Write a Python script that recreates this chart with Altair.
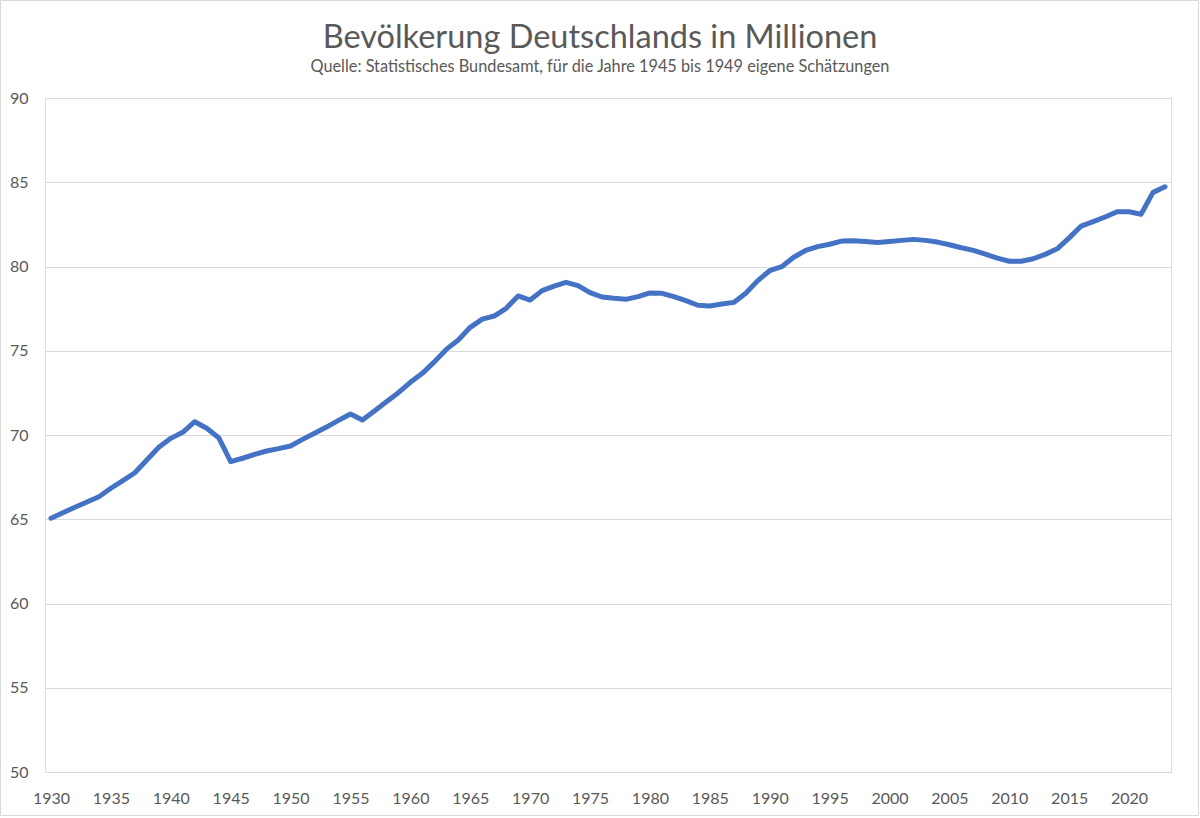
import altair as alt
import pandas as pd

years = list(range(1930, 2024))
population = [
    65.06, 65.39, 65.71, 66.02, 66.34, 66.84, 67.29, 67.76, 68.52, 69.27,
    69.80, 70.16, 70.79, 70.40, 69.84, 68.42, 68.62, 68.85, 69.05, 69.19,
    69.35, 69.74, 70.10, 70.47, 70.87, 71.25, 70.89, 71.42, 71.97, 72.51,
    73.13, 73.66, 74.34, 75.08, 75.64, 76.39, 76.88, 77.06, 77.52, 78.25,
    78.01, 78.57, 78.84, 79.06, 78.86, 78.45, 78.19, 78.11, 78.05, 78.21,
    78.43, 78.41, 78.21, 77.97, 77.70, 77.66, 77.77, 77.87, 78.41, 79.16,
    79.75, 79.99, 80.55, 80.95, 81.18, 81.32, 81.51, 81.53, 81.49, 81.43,
    81.49, 81.55, 81.61, 81.55, 81.45, 81.29, 81.11, 80.96, 80.74, 80.50,
    80.31, 80.31, 80.46, 80.72, 81.05, 81.70, 82.40, 82.66, 82.94, 83.25,
    83.25, 83.10, 84.40, 84.73,
]
x_ticks = list(range(1930, 2021, 5))
y_ticks = list(range(50, 91, 5))

title_text = "Bevölkerung Deutschlands in Millionen"
subtitle_text = "Quelle: Statistisches Bundesamt, für die Jahre 1945 bis 1949 eigene Schätzungen"

df = pd.DataFrame({"Jahr": years, "Bevölkerung": population})

FONT = "Lato"
GRAY = "#595959"
W, H = 1126, 674

line = alt.Chart(df).mark_line(
    color="#4472C4", strokeWidth=5, strokeCap="round", strokeJoin="round"
).encode(
    x=alt.X("Jahr:Q",
            scale=alt.Scale(domain=[1929.5, 2023.5], nice=False, zero=False),
            axis=alt.Axis(values=x_ticks, format="d", title=None, grid=False,
                          domain=False, ticks=False, labelPadding=18,
                          labelFontSize=16, labelColor=GRAY, labelFont=FONT)),
    y=alt.Y("Bevölkerung:Q",
            scale=alt.Scale(domain=[50, 90], nice=False, zero=False),
            axis=alt.Axis(values=y_ticks, title=None, grid=True,
                          gridColor="#D9D9D9", gridWidth=1,
                          domain=False, ticks=False, labelPadding=17,
                          labelFontSize=16, labelColor=GRAY, labelFont=FONT)),
)

one = alt.Data(values=[{}])

border = alt.Chart(one).mark_rect(
    fillOpacity=0, stroke="#D9D9D9", strokeWidth=1
).encode(
    x=alt.value(-44.5), x2=alt.value(1153.5),
    y=alt.value(-97.5), y2=alt.value(717.5),
)

title = alt.Chart(one).mark_text(
    text=title_text, align="center", baseline="alphabetic",
    font=FONT, fontSize=32.5, color=GRAY,
).encode(x=alt.value(555), y=alt.value(-50))

subtitle = alt.Chart(one).mark_text(
    text=subtitle_text, align="center", baseline="alphabetic",
    font=FONT, fontSize=16.3, color=GRAY,
).encode(x=alt.value(555), y=alt.value(-26))

chart = alt.layer(border, line, title, subtitle).properties(
    width=W, height=H,
    autosize=alt.AutoSizeParams(type="none"),
    padding={"left": 45, "top": 98, "right": 29, "bottom": 46},
).configure_view(stroke=None).configure(background="white")

chart.save("out.html", embed_options={"renderer": "svg", "actions": False})
